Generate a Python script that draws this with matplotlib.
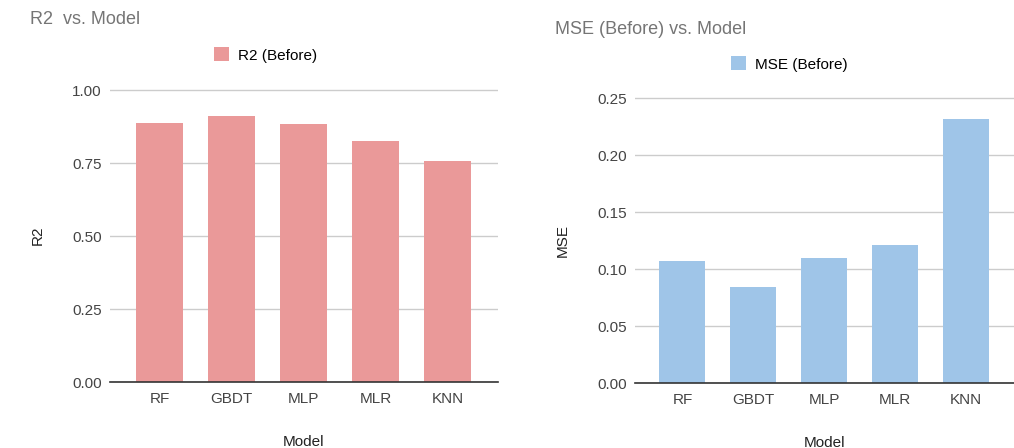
import numpy as np
import matplotlib.pyplot as plt

plt.rcParams["font.family"] = ["Liberation Sans", "DejaVu Sans"]

models = ["RF", "GBDT", "MLP", "MLR", "KNN"]
r2_before = [0.887, 0.910, 0.882, 0.824, 0.756]
mse_before = [0.107, 0.084, 0.110, 0.121, 0.232]
r2_ticks = [0.00, 0.25, 0.50, 0.75, 1.00]
mse_ticks = [0.00, 0.05, 0.10, 0.15, 0.20, 0.25]

W, H = 1014, 448
fig = plt.figure(figsize=(W / 100, H / 100), dpi=100)


def px_axes(x0, y0, x1, y1):
    # pixel box (top-left origin) -> figure axes
    return fig.add_axes([x0 / W, 1 - y1 / H, (x1 - x0) / W, (y1 - y0) / H])


def style(ax, ticks, fmt, ylabel, xlim, ylim):
    ax.set_xlim(*xlim)
    ax.set_ylim(*ylim)
    ax.set_yticks(ticks)
    ax.set_yticklabels([fmt.format(t) for t in ticks])
    ax.set_xticks(np.arange(len(models)))
    ax.set_xticklabels(models)
    ax.tick_params(length=0, labelsize=11, colors="#444444")
    ax.tick_params(axis="y", pad=6)
    ax.tick_params(axis="x", pad=7)
    for s in ["top", "right", "left"]:
        ax.spines[s].set_visible(False)
    ax.spines["bottom"].set_color("#333333")
    ax.spines["bottom"].set_linewidth(1.2)
    ax.spines["bottom"].set_zorder(4)
    ax.grid(axis="y", color="#cccccc", linewidth=1)
    ax.set_axisbelow(True)
    ax.set_xlabel("Model", fontsize=11, color="#222222", labelpad=21)
    ax.set_ylabel(ylabel, fontsize=11, color="#222222", labelpad=20)


# R2 chart
ax1 = px_axes(110, 89, 498, 382)
x = np.arange(len(models))
ax1.bar(x, r2_before, width=0.65, color="#ea9999", label="R2 (Before)")
style(ax1, r2_ticks, "{:.2f}", "R2", (-0.6875, 4.70), (0, 1.0035))
fig.text(30 / W, 1 - 20 / H, "R2  vs. Model", fontsize=13, color="#757575", va="center")
fig.legend(handles=ax1.patches[:1], labels=["R2 (Before)"], loc="center left",
           bbox_to_anchor=(206 / W, 1 - 55 / H), frameon=False, fontsize=11,
           handlelength=1.0, handleheight=1.0, handletextpad=0.6, borderpad=0)

# MSE chart
ax2 = px_axes(635, 97, 1014, 383)
ax2.bar(x, mse_before, width=0.65, color="#9fc5e8", label="MSE (Before)")
style(ax2, mse_ticks, "{:.2f}", "MSE", (-0.67, 4.68), (0, 0.2509))
fig.text(555 / W, 1 - 30 / H, "MSE (Before) vs. Model", fontsize=13, color="#757575", va="center")
fig.legend(handles=ax2.patches[:1], labels=["MSE (Before)"], loc="center left",
           bbox_to_anchor=(723 / W, 1 - 64 / H), frameon=False, fontsize=11,
           handlelength=1.0, handleheight=1.0, handletextpad=0.6, borderpad=0)

fig.savefig("out.png", dpi=100)
